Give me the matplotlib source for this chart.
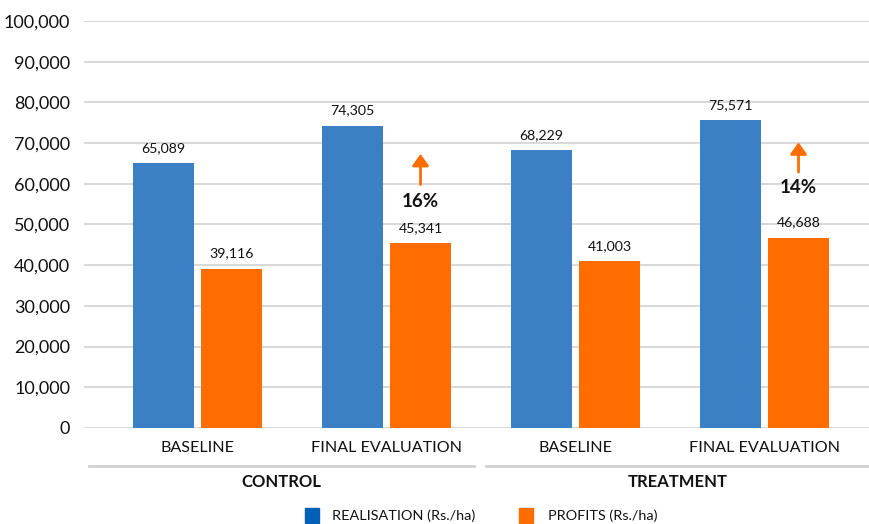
import matplotlib
matplotlib.use("Agg")
import matplotlib.pyplot as plt
import numpy as np
from matplotlib.lines import Line2D
from matplotlib.patches import Rectangle

plt.rcParams['font.family'] = ['Lato', 'DejaVu Sans']

categories = ["BASELINE", "FINAL EVALUATION", "BASELINE", "FINAL EVALUATION"]
groups = ["CONTROL", "TREATMENT"]
realisation = [65089, 74305, 68229, 75571]
profits = [39116, 45341, 41003, 46688]
changes = ["16%", "14%"]          # profit change, control / treatment
series_names = ["REALISATION (Rs./ha)", "PROFITS (Rs./ha)"]

BLUE = "#3B7FC4"
ORANGE = "#FF6D00"
TXT = '#111111'

fig = plt.figure(figsize=(8.7, 5.24), dpi=100)
ax = fig.add_axes([84/870, 1-428/524, 1-84/870, (428-21)/524])

x = np.arange(len(categories))
w = 0.323
off = 0.18
ax.bar(x - off, realisation, w, color=BLUE, zorder=3)
ax.bar(x + off, profits, w, color=ORANGE, zorder=3)

for xi, v in zip(x, realisation):
    ax.text(xi - off, v + 2300, f"{v:,}", ha='center', va='bottom', fontsize=10.2, color=TXT)
for xi, v in zip(x, profits):
    ax.text(xi + off, v + 2300, f"{v:,}", ha='center', va='bottom', fontsize=10.2, color=TXT)

# arrows and percentages over final-evaluation profit bars
ann = [(1, 10400, 14500, 22000), (3, 12300, 16200, 23500)]
for (ci, toff, a0, a1), lab in zip(ann, changes):
    v = profits[ci]
    ax.text(ci + off, v + toff, lab, ha='center', va='center', fontsize=13.5,
            fontweight='bold', color=TXT)
    ax.annotate("", xy=(ci + off, v + a1), xytext=(ci + off, v + a0),
                arrowprops=dict(arrowstyle="-|>,head_width=0.5,head_length=0.7",
                                color=ORANGE, lw=2, shrinkA=0, shrinkB=0))

ax.set_ylim(0, 100000)
ax.set_xlim((84-197.5)/189, (870-197.5)/189)
ax.set_yticks(np.arange(0, 100001, 10000))
ax.set_yticklabels([f"{t:,}" for t in range(0, 100001, 10000)], fontsize=13, color=TXT)
ax.yaxis.grid(True, color='#d9d9d9', lw=1.5, zorder=0)
ax.set_axisbelow(True)
ax.tick_params(axis='y', length=0, pad=10)
ax.set_xticks(x)
ax.set_xticklabels(categories, fontsize=11.6, color=TXT)
ax.tick_params(axis='x', length=0, pad=9)
for s in ax.spines.values():
    s.set_visible(False)

# group lines and labels
fig.add_artist(Line2D([89/870, 474/870], [1-466/524]*2, color='#d0d0d0', lw=2))
fig.add_artist(Line2D([486/870, 870/870], [1-466/524]*2, color='#d0d0d0', lw=2))
fig.text(281/870, 1-482/524, groups[0], ha='center', va='center', fontsize=12, fontweight='bold', color=TXT)
fig.text(678/870, 1-482/524, groups[1], ha='center', va='center', fontsize=12, fontweight='bold', color=TXT)

# legend
fig.add_artist(Rectangle((305/870, 1-523/524), 14/870, 15/524, color='#0060B8'))
fig.text(332/870, 1-516/524, series_names[0], ha='left', va='center', fontsize=10.4, color=TXT)
fig.add_artist(Rectangle((519/870, 1-523/524), 14/870, 15/524, color=ORANGE))
fig.text(548/870, 1-516/524, series_names[1], ha='left', va='center', fontsize=10.4, color=TXT)

fig.savefig("out.png", dpi=100)
